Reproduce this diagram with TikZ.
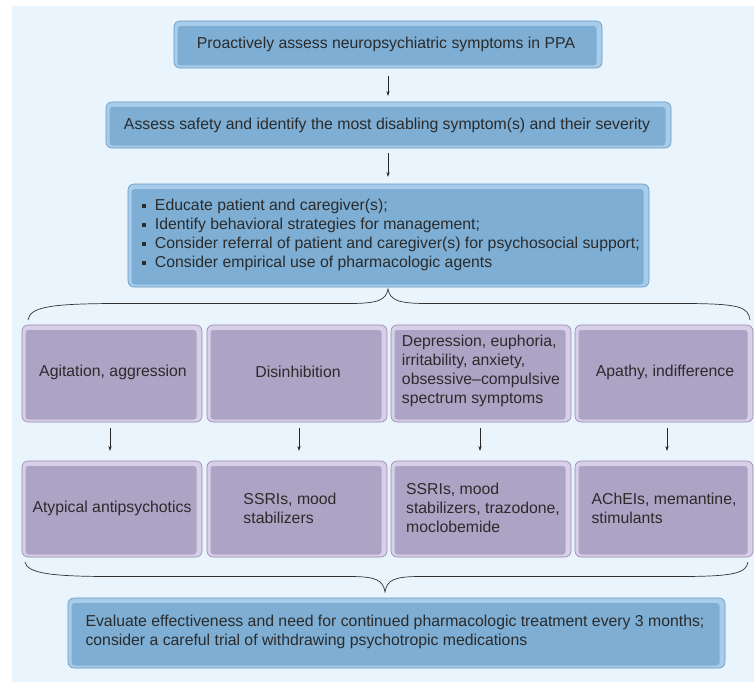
\documentclass[tikz,border=0pt]{standalone}
\usepackage{fontspec}
\setmainfont{Liberation Sans}
\usetikzlibrary{arrows.meta}
\definecolor{bgpanel}{HTML}{EAF4FC}
\definecolor{bluebev}{HTML}{A8CDEA}
\definecolor{blueface}{HTML}{7EAED3}
\definecolor{blueline}{HTML}{6597C0}
\definecolor{purbev}{HTML}{D8CFE8}
\definecolor{purface}{HTML}{ADA3C4}
\definecolor{purline}{HTML}{968AAE}
\definecolor{txt}{HTML}{2B2B2B}
\newcommand{\fsz}{\fontsize{15.8}{19}\selectfont}
\newcommand{\bul}{\raisebox{2pt}{\rule{4pt}{4pt}}\ \ }
\tikzset{
  bevbox/.style n args={3}{draw=#3, line width=0.6pt, fill=#1, rounded corners=6pt,
    text=txt, inner sep=0pt,
    path picture={\fill[#2, rounded corners=3pt]
      ([shift={(3.5pt,2.5pt)}]path picture bounding box.south west) rectangle
      ([shift={(-5.5pt,-5pt)}]path picture bounding box.north east);}},
  bluebox/.style={bevbox={bluebev}{blueface}{blueline}},
  purbox/.style={bevbox={purbev}{purface}{purline}},
  arr/.style={-{Stealth[length=5pt,width=3.2pt]}, line width=0.6pt, black!85},
  brace/.style={line width=0.7pt, black!80},
  lbl/.style={text=txt, font=\fsz, align=left, inner sep=0pt}
}
\begin{document}
\begin{tikzpicture}[x=1pt,y=-1pt]
\useasboundingbox (0,0) rectangle (754,682);
\fill[white] (0,0) rectangle (754,682);
\fill[bgpanel] (12,6) rectangle (754,682);

% top boxes
\path[bluebox] (174,21) rectangle (602,68);
\node[lbl] (b1) at (386,44) {Proactively assess neuropsychiatric symptoms in PPA};
\coordinate (b1s) at (388,76);
\coordinate (b1e) at (388,96);

\path[bluebox] (106,102) rectangle (671,148);
\node[lbl] (b2) at (387,125) {Assess safety and identify the most disabling symptom(s) and their severity};
\coordinate (b2s) at (388,153);
\coordinate (b2e) at (388,177);

\path[bluebox] (128,184) rectangle (649,287);
\node[lbl, anchor=west] (b3) at (142,234.5) {%
  \bul Educate patient and caregiver(s);\\
  \bul Identify behavioral strategies for management;\\
  \bul Consider referral of patient and caregiver(s) for psychosocial support;\\
  \bul Consider empirical use of pharmacologic agents};

% top brace
\coordinate (tb1) at (28,320);
\coordinate (tb2) at (388,289);
\coordinate (tb3) at (750,320);
\draw[brace] (tb1) .. controls (30,307) and (50,304) .. (110,303.5) -- (350,303.5)
  .. controls (378,303.5) and (386,300) .. (tb2)
  .. controls (390,300) and (398,303.5) .. (426,303.5) -- (690,303.5)
  .. controls (740,304) and (748,307) .. (tb3);

% row 1
\path[purbox] (22,325) rectangle (202,422);
\node[lbl] (r1a) at (113,372) {Agitation, aggression};
\path[purbox] (207,325) rectangle (387,422);
\node[lbl] (r1b) at (298,372) {Disinhibition};
\path[purbox] (391,325) rectangle (571,422);
\node[lbl] (r1c) at (481,371) {Depression, euphoria,\\irritability, anxiety,\\obsessive--compulsive\\spectrum symptoms};
\path[purbox] (575,325) rectangle (753,422);
\node[lbl] (r1d) at (665,372) {Apathy, indifference};

% arrows between rows
\coordinate (a1s) at (110,428); \coordinate (a1e) at (110,451);
\coordinate (a2s) at (299,428); \coordinate (a2e) at (299,451);
\coordinate (a3s) at (480,428); \coordinate (a3e) at (480,451);
\coordinate (a4s) at (667,428); \coordinate (a4e) at (667,451);

% row 2
\path[purbox] (22,461) rectangle (202,557);
\node[lbl] (r2a) at (112,508) {Atypical antipsychotics};
\path[purbox] (207,461) rectangle (387,557);
\node[lbl] (r2b) at (290,508) {SSRIs, mood\\stabilizers};
\path[purbox] (391,461) rectangle (571,557);
\node[lbl] (r2c) at (483,508) {SSRIs, mood\\stabilizers, trazodone,\\moclobemide};
\path[purbox] (575,461) rectangle (753,557);
\node[lbl] (r2d) at (664,508) {AChEIs, memantine,\\stimulants};

% bottom brace
\coordinate (bb1) at (25,562);
\coordinate (bb2) at (385,592);
\coordinate (bb3) at (748,562);
\draw[brace] (bb1) .. controls (27,573) and (50,576.5) .. (110,576.5) -- (350,576.5)
  .. controls (376,576.5) and (383,580) .. (bb2)
  .. controls (387,580) and (394,576.5) .. (420,576.5) -- (680,576.5)
  .. controls (735,576.5) and (746,573) .. (bb3);

% bottom box
\path[bluebox] (68,598) rectangle (725,668);
\node[lbl] (b4) at (395,632) {Evaluate effectiveness and need for continued pharmacologic treatment every 3 months;\\consider a careful trial of withdrawing psychotropic medications};

\draw[arr] (b1s) -- (b1e);
\draw[arr] (b2s) -- (b2e);
\draw[arr] (a1s) -- (a1e);
\draw[arr] (a2s) -- (a2e);
\draw[arr] (a3s) -- (a3e);
\draw[arr] (a4s) -- (a4e);
\end{tikzpicture}
\end{document}
